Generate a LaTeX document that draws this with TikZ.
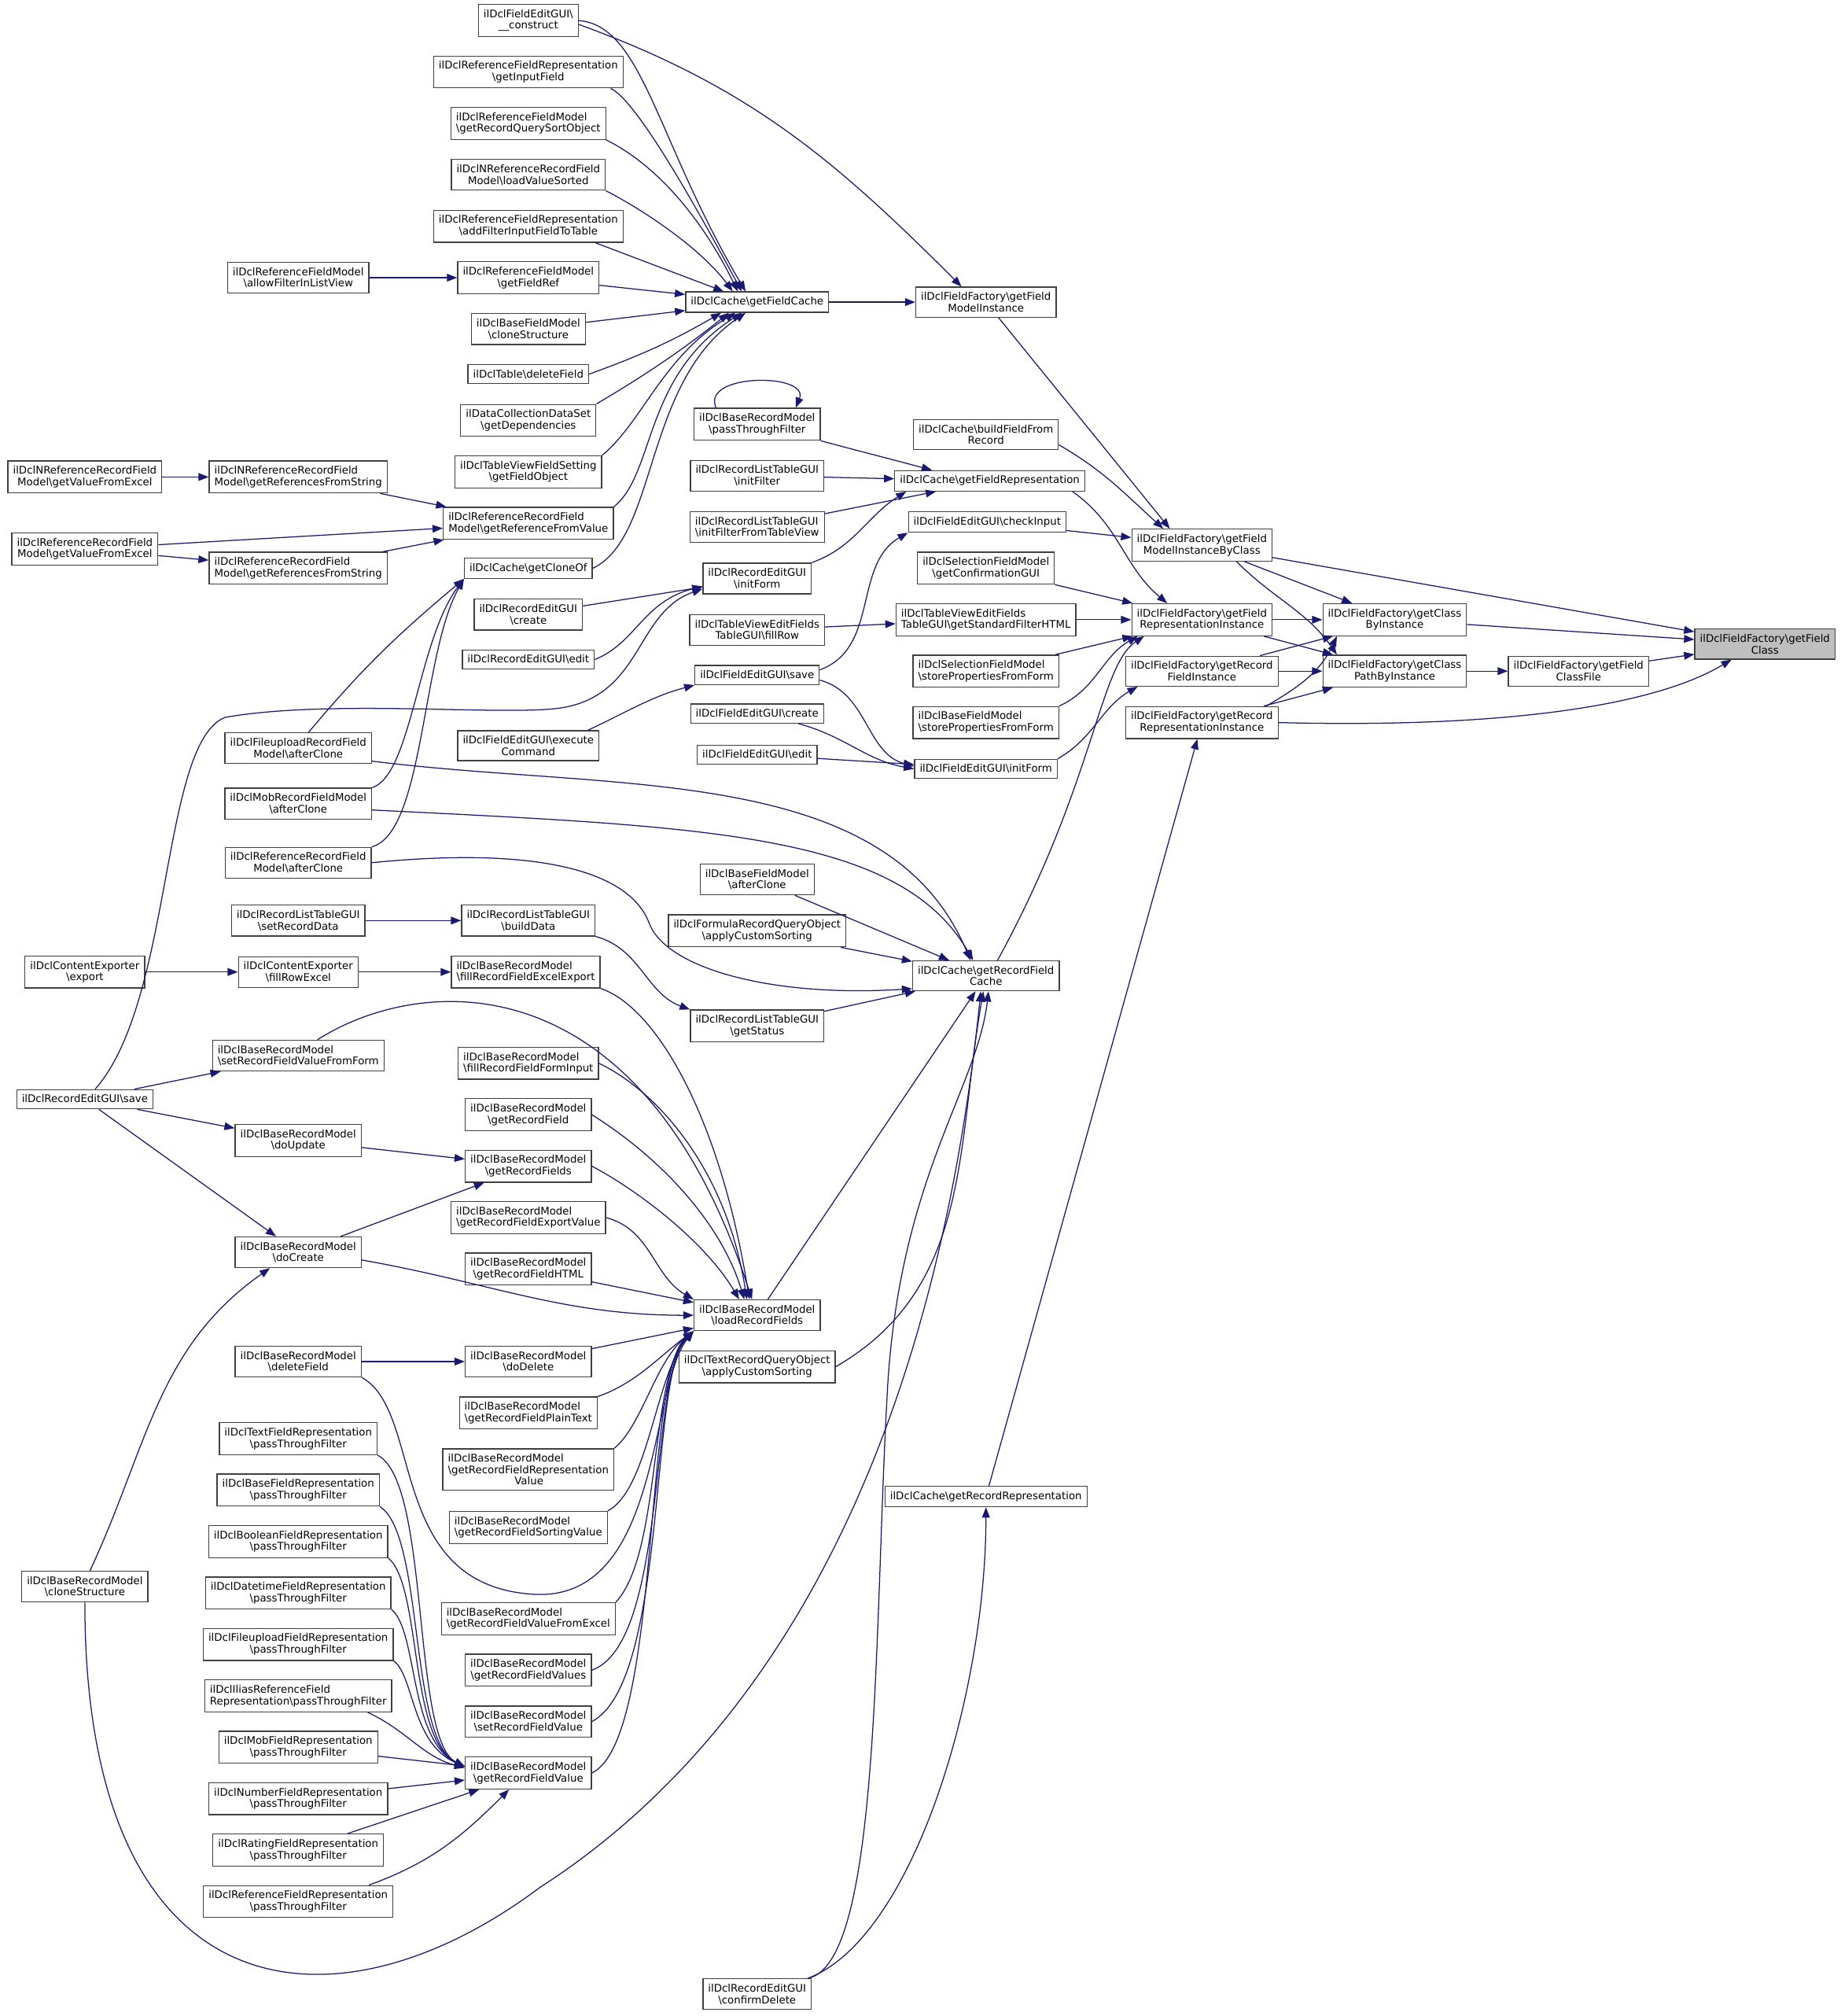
\documentclass[tikz,border=0pt]{standalone}
\usepackage{fontspec}
\setmainfont{DejaVu Sans}
\usetikzlibrary{arrows.meta}
\definecolor{callblue}{HTML}{191970}
\definecolor{boxgray}{HTML}{404040}
\definecolor{rootgray}{HTML}{BFBFBF}
\newdimen\gpx \gpx=0.05cm
\newcommand{\bsl}{\textbackslash}

\begin{document}
\begin{tikzpicture}[
  x=0.05cm, y=0.05cm,
  font=\fontsize{11.6}{12.8}\selectfont,
  fn/.style={draw=boxgray, line width=1.1pt, fill=white, align=center,
    inner xsep=0.2cm, inner ysep=0.2cm},
  fnl/.style={fn, align=left},
  rootfn/.style={fn, fill=rootgray},
  call/.style={-{Triangle[length=0.4cm,width=0.3cm]}, draw=callblue, line width=1.1pt}
]
\useasboundingbox (0,0) rectangle (1432,1568);

% factory methods (right part)
\node[rootfn] (fieldClass) at (1373,1067) {ilDclFieldFactory\bsl getField\\Class};
\node[fn] (fieldClassFile) at (1228,1046) {ilDclFieldFactory\bsl getField\\ClassFile};
\node[fn] (classByInst) at (1085,1086) {ilDclFieldFactory\bsl getClass\\ByInstance};
\node[fn] (classPathByInst) at (1085,1046) {ilDclFieldFactory\bsl getClass\\PathByInstance};
\node[fn] (modelByClass) at (935,1144) {ilDclFieldFactory\bsl getField\\ModelInstanceByClass};
\node[fn] (reprInst) at (935,1086) {ilDclFieldFactory\bsl getField\\RepresentationInstance};
\node[fn] (recFieldInst) at (935,1046) {ilDclFieldFactory\bsl getRecord\\FieldInstance};
\node[fn] (recReprInst) at (935,1006) {ilDclFieldFactory\bsl getRecord\\RepresentationInstance};

% fifth column
\node[fn] (modelInst) at (767,1333) {ilDclFieldFactory\bsl getField\\ModelInstance};
\node[fn] (buildField) at (767,1230) {ilDclCache\bsl buildFieldFrom\\Record};
\node[fn] (getFieldRepr) at (770,1194) {ilDclCache\bsl getFieldRepresentation};
\node[fn] (checkInput) at (768,1162) {ilDclFieldEditGUI\bsl checkInput};
\node[fn] (confirmGUI) at (767,1126) {ilDclSelectionFieldModel\\\bsl getConfirmationGUI};
\node[fnl] (stdFilter) at (767,1086) {ilDclTableViewEditFields\\TableGUI\bsl getStandardFilterHTML};
\node[fnl] (selStore) at (767,1046) {ilDclSelectionFieldModel\\\bsl storePropertiesFromForm};
\node[fnl] (baseStore) at (767,1006) {ilDclBaseFieldModel\\\bsl storePropertiesFromForm};
\node[fn] (fieldInitForm) at (767,970) {ilDclFieldEditGUI\bsl initForm};
\node[fn] (recFieldCache) at (767,809) {ilDclCache\bsl getRecordField\\Cache};
\node[fn] (recRepr) at (767,404) {ilDclCache\bsl getRecordRepresentation};

% fourth column
\node[fn] (fieldCache) at (589,1333) {ilDclCache\bsl getFieldCache};
\node[fn] (recPass) at (589,1238) {ilDclBaseRecordModel\\\bsl passThroughFilter};
\node[fn] (initFilter) at (589,1198) {ilDclRecordListTableGUI\\\bsl initFilter};
\node[fnl] (initFilterTV) at (589,1158) {ilDclRecordListTableGUI\\\bsl initFilterFromTableView};
\node[fn] (recInitForm) at (589,1118) {ilDclRecordEditGUI\\\bsl initForm};
\node[fn] (fillRow) at (589,1078) {ilDclTableViewEditFields\\TableGUI\bsl fillRow};
\node[fn] (fieldSave) at (589,1043) {ilDclFieldEditGUI\bsl save};
\node[fn] (fieldCreate) at (589,1013) {ilDclFieldEditGUI\bsl create};
\node[fn] (fieldEdit) at (589,981) {ilDclFieldEditGUI\bsl edit};
\node[fn] (baseAfterClone) at (589,884) {ilDclBaseFieldModel\\\bsl afterClone};
\node[fn] (formulaSort) at (589,844) {ilDclFormulaRecordQueryObject\\\bsl applyCustomSorting};
\node[fn] (getStatus) at (589,770) {ilDclRecordListTableGUI\\\bsl getStatus};
\node[fn] (loadFields) at (589,545) {ilDclBaseRecordModel\\\bsl loadRecordFields};
\node[fn] (textSort) at (589,505) {ilDclTextRecordQueryObject\\\bsl applyCustomSorting};
\node[fn] (confirmDelete) at (589,17) {ilDclRecordEditGUI\\\bsl confirmDelete};

% third column
\node[fn] (construct) at (411,1552) {ilDclFieldEditGUI\bsl\\\_\_construct};
\node[fn] (getInputField) at (411,1512) {ilDclReferenceFieldRepresentation\\\bsl getInputField};
\node[fnl] (sortObject) at (411,1472) {ilDclReferenceFieldModel\\\bsl getRecordQuerySortObject};
\node[fn] (loadSorted) at (411,1432) {ilDclNReferenceRecordField\\Model\bsl loadValueSorted};
\node[fn] (addFilter) at (411,1392) {ilDclReferenceFieldRepresentation\\\bsl addFilterInputFieldToTable};
\node[fn] (getFieldRef) at (411,1352) {ilDclReferenceFieldModel\\\bsl getFieldRef};
\node[fn] (fieldClone) at (411,1312) {ilDclBaseFieldModel\\\bsl cloneStructure};
\node[fn] (deleteField) at (411,1277) {ilDclTable\bsl deleteField};
\node[fn] (getDeps) at (411,1241) {ilDataCollectionDataSet\\\bsl getDependencies};
\node[fn] (getFieldObj) at (411,1201) {ilDclTableViewFieldSetting\\\bsl getFieldObject};
\node[fnl] (refFromValue) at (411,1161) {ilDclReferenceRecordField\\Model\bsl getReferenceFromValue};
\node[fn] (getCloneOf) at (411,1126) {ilDclCache\bsl getCloneOf};
\node[fn] (recCreate) at (411,1090) {ilDclRecordEditGUI\\\bsl create};
\node[fn] (recEdit) at (411,1055) {ilDclRecordEditGUI\bsl edit};
\node[fn] (execCmd) at (411,988) {ilDclFieldEditGUI\bsl execute\\Command};
\node[fn] (buildData) at (411,852) {ilDclRecordListTableGUI\\\bsl buildData};
\node[fnl] (excelExport) at (409,812) {ilDclBaseRecordModel\\\bsl fillRecordFieldExcelExport};
\node[fnl] (formInput) at (411,741) {ilDclBaseRecordModel\\\bsl fillRecordFieldFormInput};
\node[fn] (getRecField) at (411,701) {ilDclBaseRecordModel\\\bsl getRecordField};
\node[fn] (getRecFields) at (411,661) {ilDclBaseRecordModel\\\bsl getRecordFields};
\node[fnl] (exportValue) at (411,621) {ilDclBaseRecordModel\\\bsl getRecordFieldExportValue};
\node[fn] (fieldHTML) at (411,581) {ilDclBaseRecordModel\\\bsl getRecordFieldHTML};
\node[fn] (doDelete) at (411,509) {ilDclBaseRecordModel\\\bsl doDelete};
\node[fnl] (plainText) at (411,469) {ilDclBaseRecordModel\\\bsl getRecordFieldPlainText};
\node[fnl] (reprValue) at (411,425) {ilDclBaseRecordModel\\\bsl getRecordFieldRepresentation\\\hspace*{6.36em}Value};
\node[fnl] (sortingValue) at (411,380) {ilDclBaseRecordModel\\\bsl getRecordFieldSortingValue};
\node[fnl] (valueFromExcel) at (411,309) {ilDclBaseRecordModel\\\bsl getRecordFieldValueFromExcel};
\node[fn] (fieldValues) at (411,269) {ilDclBaseRecordModel\\\bsl getRecordFieldValues};
\node[fn] (setFieldValue) at (411,229) {ilDclBaseRecordModel\\\bsl setRecordFieldValue};
\node[fn] (getFieldValue) at (411,189) {ilDclBaseRecordModel\\\bsl getRecordFieldValue};

% second column
\node[fn] (allowFilter) at (232,1352) {ilDclReferenceFieldModel\\\bsl allowFilterInListView};
\node[fnl] (nrefFromString) at (232,1197) {ilDclNReferenceRecordField\\Model\bsl getReferencesFromString};
\node[fnl] (refFromString) at (232,1126) {ilDclReferenceRecordField\\Model\bsl getReferencesFromString};
\node[fn] (uploadAfterClone) at (232,986) {ilDclFileuploadRecordField\\Model\bsl afterClone};
\node[fn] (mobAfterClone) at (232,943) {ilDclMobRecordFieldModel\\\bsl afterClone};
\node[fn] (refAfterClone) at (232,897) {ilDclReferenceRecordField\\Model\bsl afterClone};
\node[fn] (setRecordData) at (232,852) {ilDclRecordListTableGUI\\\bsl setRecordData};
\node[fn] (fillRowExcel) at (232,812) {ilDclContentExporter\\\bsl fillRowExcel};
\node[fnl] (valueFromForm) at (232,747) {ilDclBaseRecordModel\\\bsl setRecordFieldValueFromForm};
\node[fn] (doUpdate) at (232,681) {ilDclBaseRecordModel\\\bsl doUpdate};
\node[fn] (doCreate) at (232,594) {ilDclBaseRecordModel\\\bsl doCreate};
\node[fn] (recDeleteField) at (232,509) {ilDclBaseRecordModel\\\bsl deleteField};
\node[fn] (ptText) at (232,449) {ilDclTextFieldRepresentation\\\bsl passThroughFilter};
\node[fn] (ptBase) at (232,409) {ilDclBaseFieldRepresentation\\\bsl passThroughFilter};
\node[fn] (ptBool) at (232,369) {ilDclBooleanFieldRepresentation\\\bsl passThroughFilter};
\node[fn] (ptDate) at (232,329) {ilDclDatetimeFieldRepresentation\\\bsl passThroughFilter};
\node[fn] (ptUpload) at (232,289) {ilDclFileuploadFieldRepresentation\\\bsl passThroughFilter};
\node[fnl] (ptIlias) at (232,249) {ilDclIliasReferenceField\\Representation\bsl passThroughFilter};
\node[fn] (ptMob) at (232,209) {ilDclMobFieldRepresentation\\\bsl passThroughFilter};
\node[fn] (ptNumber) at (232,169) {ilDclNumberFieldRepresentation\\\bsl passThroughFilter};
\node[fn] (ptRating) at (232,129) {ilDclRatingFieldRepresentation\\\bsl passThroughFilter};
\node[fn] (ptRef) at (232,89) {ilDclReferenceFieldRepresentation\\\bsl passThroughFilter};

% first column
\node[fn] (nrefExcel) at (66,1197) {ilDclNReferenceRecordField\\Model\bsl getValueFromExcel};
\node[fn] (refExcel) at (66,1141) {ilDclReferenceRecordField\\Model\bsl getValueFromExcel};
\node[fn] (export) at (66,812) {ilDclContentExporter\\\bsl export};
\node[fn] (recSave) at (66,713) {ilDclRecordEditGUI\bsl save};
\node[fn] (recClone) at (66,334) {ilDclBaseRecordModel\\\bsl cloneStructure};

% calls into the factory
\draw[call] (modelByClass) -- (fieldClass);
\draw[call] (classByInst) -- (fieldClass);
\draw[call] (fieldClassFile) -- (fieldClass);
\draw[call] (recReprInst.east) .. controls (1150,1002) and (1280,1015) .. ([xshift=-26\gpx]fieldClass.south);
\draw[call] (classPathByInst) -- (fieldClassFile);
\draw[call] (modelByClass) -- (classByInst);
\draw[call] ([xshift=27\gpx]modelByClass.south) to[out=-45,in=125] ([xshift=-45\gpx]classPathByInst.north);
\draw[call] (reprInst) -- (classByInst);
\draw[call] (reprInst) -- (classPathByInst);
\draw[call] (recFieldInst) -- (classByInst);
\draw[call] (recFieldInst) -- (classPathByInst);
\draw[call] ([xshift=50\gpx]recReprInst.north) to[out=30,in=-115] ([xshift=-45\gpx]classByInst.south);
\draw[call] (recReprInst) -- (classPathByInst);

\draw[call] (modelInst) -- ([xshift=-25\gpx]modelByClass.north);
\draw[call] ([yshift=-8\gpx]buildField.east) to[out=-30,in=138] ([xshift=-30\gpx]modelByClass.north);
\draw[call] (checkInput) -- (modelByClass);

\draw[call] ([xshift=-10\gpx]getFieldRepr.south east) to[out=-35,in=140] ([xshift=-27\gpx]reprInst.north);
\draw[call] (confirmGUI) -- (reprInst);
\draw[call] (stdFilter) -- (reprInst);
\draw[call] (selStore) -- (reprInst);
\draw[call] (baseStore.north east) to[out=25,in=-150] ([xshift=-50\gpx]reprInst.south);
\draw[call] ([xshift=9\gpx]recFieldCache.north) .. controls (852,960) and (855,1050) .. ([xshift=-45\gpx]reprInst.south);
\draw[call] (fieldInitForm.north east) to[out=30,in=-150] ([xshift=-50\gpx]recFieldInst.south);
\draw[call] (recRepr) -- (recReprInst);

% field cache
\draw[call] ([yshift=-3\gpx]construct.east) to[out=-20,in=135] ([xshift=-19\gpx]modelInst.north);
\draw[call] (fieldCache) -- (modelInst);
\draw[call] (construct.east) .. controls (500,1548) and (510,1460) .. ([xshift=-9\gpx]fieldCache.north);
\draw[call] ([xshift=-10\gpx]getInputField.south east) .. controls (495,1490) and (540,1410) .. ([xshift=-12\gpx]fieldCache.north);
\draw[call] (sortObject.south east) .. controls (510,1440) and (545,1400) .. ([xshift=-15\gpx]fieldCache.north);
\draw[call] (loadSorted.south east) .. controls (500,1405) and (545,1375) .. ([xshift=-19\gpx]fieldCache.north);
\draw[call] ([xshift=-22\gpx]addFilter.south east) -- ([xshift=-26\gpx]fieldCache.north);
\draw[call] (getFieldRef) -- (fieldCache);
\draw[call] (fieldClone) -- (fieldCache);
\draw[call] (deleteField.east) to[out=20,in=-150] ([xshift=-28\gpx]fieldCache.south);
\draw[call] (getDeps.north east) .. controls (500,1275) and (530,1295) .. ([xshift=-22\gpx]fieldCache.south);
\draw[call] (getFieldObj.north east) .. controls (500,1240) and (515,1290) .. ([xshift=-17\gpx]fieldCache.south);
\draw[call] (refFromValue.north east) .. controls (510,1200) and (500,1275) .. ([xshift=-12\gpx]fieldCache.south);
\draw[call] (getCloneOf.east) .. controls (512,1150) and (500,1270) .. ([xshift=-9\gpx]fieldCache.south);
\draw[call] (allowFilter) -- (getFieldRef);

% field representation, forms
\draw[call] ([xshift=-32\gpx]recPass.north) .. controls (545,1278) and (630,1278) .. ([xshift=30\gpx]recPass.north);
\draw[call] (recPass.south east) to[out=-15,in=165] ([xshift=-45\gpx]getFieldRepr.north);
\draw[call] (initFilter) -- (getFieldRepr);
\draw[call] (initFilterTV) -- (getFieldRepr);
\draw[call] (recInitForm.north east) to[out=20,in=-148] ([xshift=-65\gpx]getFieldRepr.south);
\draw[call] ([yshift=4\gpx]fieldSave.east) to[out=20,in=-150] (checkInput.south west);
\draw[call] (fillRow) -- (stdFilter);
\draw[call] ([yshift=-4\gpx]fieldSave.east) to[out=-15,in=165] ([yshift=2\gpx]fieldInitForm.west);
\draw[call] ([xshift=-20\gpx]fieldCreate.south east) to[out=-15,in=170] (fieldInitForm.west);
\draw[call] (fieldEdit) -- (fieldInitForm);
\draw[call] (recCreate) -- (recInitForm);
\draw[call] (recEdit.east) .. controls (495,1068) and (500,1100) .. ([yshift=-6\gpx]recInitForm.west);
\draw[call] ([xshift=8\gpx]recSave.north) .. controls (135,790) and (125,990) .. (175,1010)
  .. controls (260,1025) and (400,1010) .. (440,1018)
  .. controls (500,1030) and (495,1092) .. ([yshift=-8\gpx]recInitForm.west);
\draw[call] ([xshift=-9\gpx]execCmd.north east) to[out=25,in=-165] (fieldSave.south west);

% references
\draw[call] (nrefFromString) -- (refFromValue);
\draw[call] (refExcel) -- (refFromValue);
\draw[call] (refFromString) -- (refFromValue);
\draw[call] (nrefExcel) -- (nrefFromString);
\draw[call] (refExcel) -- (refFromString);

% clones
\draw[call] ([xshift=8\gpx]uploadAfterClone.north) to[out=50,in=-140] (getCloneOf.south west);
\draw[call] (mobAfterClone.north east) .. controls (320,965) and (325,1070) .. (getCloneOf.south west);
\draw[call] (refAfterClone.north east) .. controls (330,920) and (328,1060) .. (getCloneOf.south west);

% record field cache
\draw[call] ([yshift=-10\gpx]uploadAfterClone.east) .. controls (480,952) and (690,975) .. ([xshift=-12\gpx]recFieldCache.north);
\draw[call] ([yshift=-5\gpx]mobAfterClone.east) .. controls (550,925) and (700,920) .. ([xshift=-10\gpx]recFieldCache.north);
\draw[call] (baseAfterClone) -- (recFieldCache);
\draw[call] (formulaSort) -- (recFieldCache);
\draw[call] (refAfterClone.east) .. controls (420,910) and (490,890) .. (505,850)
  .. controls (518,815) and (600,792) .. ([yshift=-10\gpx]recFieldCache.west);
\draw[call] (getStatus) -- (recFieldCache);
\draw[call] (loadFields) -- (recFieldCache);
\draw[call] (textSort.east) to[out=30,in=-100] ([xshift=-2\gpx]recFieldCache.south);
\draw[call] ([xshift=-3\gpx]confirmDelete.north east) .. controls (685,40) and (680,300) .. (690,480)
  .. controls (698,650) and (760,720) .. ([xshift=2\gpx]recFieldCache.south);
\draw[call] (recClone.south) .. controls (66,0) and (260,-20) .. (420,100)
  .. controls (560,190) and (720,380) .. ([xshift=-4\gpx]recFieldCache.south);
\draw[call] ([xshift=-3\gpx]confirmDelete.north east) .. controls (710,60) and (767,250) .. (recRepr.south);

% record fields
\draw[call] (excelExport.south east) .. controls (510,785) and (560,700) .. ([xshift=-6\gpx]loadFields.north);
\draw[call] ([xshift=15\gpx]valueFromForm.north) .. controls (330,812) and (500,820) .. ([xshift=-4\gpx]loadFields.north);
\draw[call] (formInput.east) .. controls (510,720) and (565,660) .. ([xshift=-8\gpx]loadFields.north);
\draw[call] (getRecField.east) .. controls (510,670) and (560,620) .. ([xshift=-10\gpx]loadFields.north);
\draw[call] (getRecFields.east) .. controls (500,640) and (550,600) .. ([xshift=-14\gpx]loadFields.north);
\draw[call] (exportValue.east) to[out=-15,in=150] (loadFields.north west);
\draw[call] (fieldHTML) -- (loadFields);
\draw[call] ([yshift=-6\gpx]doCreate.east) to[out=-10,in=180] (loadFields.west);
\draw[call] (doDelete) -- (loadFields);
\draw[call] (plainText.north east) .. controls (495,492) and (515,515) .. (loadFields.south west);
\draw[call] (reprValue.north east) .. controls (500,460) and (510,510) .. (loadFields.south west);
\draw[call] (sortingValue.north east) .. controls (505,410) and (510,500) .. (loadFields.south west);
\draw[call] (valueFromExcel.north east) .. controls (515,360) and (505,500) .. (loadFields.south west);
\draw[call] (fieldValues.east) .. controls (520,290) and (505,500) .. (loadFields.south west);
\draw[call] (setFieldValue.east) .. controls (520,260) and (505,500) .. (loadFields.south west);
\draw[call] (getFieldValue.east) .. controls (515,215) and (500,500) .. (loadFields.south west);
\draw[call] (recDeleteField.south east) .. controls (330,470) and (300,335) .. (415,328)
  .. controls (515,322) and (505,490) .. (loadFields.south west);
\draw[call] (recDeleteField) -- (doDelete);
\draw[call] (doUpdate) -- (getRecFields);
\draw[call] (doCreate) -- (getRecFields);
\draw[call] (recSave) -- (valueFromForm);
\draw[call] (recSave) -- (doUpdate);
\draw[call] (recSave) -- (doCreate);
\draw[call] ([xshift=4\gpx]recClone.north) to[out=65,in=-145] ([xshift=-22\gpx]doCreate.south);

% export and list data
\draw[call] (fillRowExcel) -- (excelExport);
\draw[call] (export) -- (fillRowExcel);
\draw[call] (setRecordData) -- (buildData);
\draw[call] (buildData.south east) to[out=-15,in=160] (getStatus.north west);

% passThroughFilter callers
\draw[call] (ptText.south east) .. controls (335,415) and (320,215) .. ([yshift=5\gpx]getFieldValue.west);
\draw[call] (ptBase.south east) .. controls (330,375) and (318,215) .. ([yshift=5\gpx]getFieldValue.west);
\draw[call] (ptBool.south east) .. controls (328,335) and (318,215) .. ([yshift=5\gpx]getFieldValue.west);
\draw[call] (ptDate.south east) .. controls (325,300) and (318,215) .. ([yshift=5\gpx]getFieldValue.west);
\draw[call] (ptUpload.south east) .. controls (322,265) and (320,212) .. ([yshift=5\gpx]getFieldValue.west);
\draw[call] ([xshift=-19\gpx]ptIlias.south east) to[out=-25,in=165] ([yshift=4\gpx]getFieldValue.west);
\draw[call] (ptMob) -- (getFieldValue);
\draw[call] (ptNumber) -- (getFieldValue);
\draw[call] (ptRating) -- (getFieldValue);
\draw[call] ([xshift=-19\gpx]ptRef.north east) to[out=20,in=-135] ([xshift=-15\gpx]getFieldValue.south);
\end{tikzpicture}
\end{document}
